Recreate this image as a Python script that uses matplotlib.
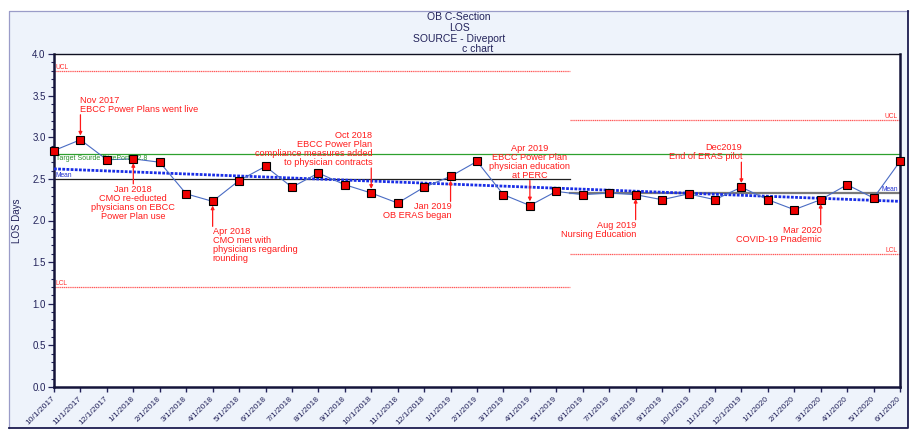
import matplotlib
matplotlib.use('Agg')
import matplotlib.pyplot as plt
from matplotlib.lines import Line2D
from matplotlib.patches import Rectangle
from matplotlib.ticker import MultipleLocator, FormatStrFormatter

# ---------------- data ----------------
months = ['10/1/2017', '11/1/2017', '12/1/2017', '1/1/2018', '2/1/2018', '3/1/2018',
          '4/1/2018', '5/1/2018', '6/1/2018', '7/1/2018', '8/1/2018', '9/1/2018',
          '10/1/2018', '11/1/2018', '12/1/2018', '1/1/2019', '2/1/2019', '3/1/2019',
          '4/1/2019', '5/1/2019', '6/1/2019', '7/1/2019', '8/1/2019', '9/1/2019',
          '10/1/2019', '11/1/2019', '12/1/2019', '1/1/2020', '2/1/2020', '3/1/2020',
          '4/1/2020', '5/1/2020', '6/1/2020']
los_days = [2.84, 2.97, 2.73, 2.74, 2.70, 2.32, 2.23, 2.48, 2.65, 2.40, 2.57, 2.43,
            2.33, 2.21, 2.40, 2.53, 2.71, 2.31, 2.18, 2.35, 2.31, 2.33, 2.31, 2.25,
            2.32, 2.25, 2.40, 2.25, 2.13, 2.25, 2.43, 2.27, 2.71]
phase_bounds = [0, 19.5, 32]          # phase change between 5/1/2019 and 6/1/2019
phase_mean = [2.50, 2.33]
phase_ucl = [3.80, 3.21]
phase_lcl = [1.20, 1.60]
target = 2.8
target_label = 'Target Sourde DivePort = 2.8'
trend_ends = [2.62, 2.23]

ann_index = [1, 3, 6, 12, 15, 18, 22, 26, 29]
ann_text = ['Nov 2017\nEBCC Power Plans went live',
            'Jan 2018\nCMO re-educted\nphysicians on EBCC\nPower Plan use',
            'Apr 2018\nCMO met with\nphysicians regarding\nrounding',
            'Oct 2018\nEBCC Power Plan\ncompliance measures added\nto physician contracts',
            'Jan 2019\nOB ERAS began',
            'Apr 2019\nEBCC Power Plan\nphysician education\nat PERC',
            'Aug 2019\nNursing Education',
            'Dec2019\nEnd of ERAS pilot',
            'Mar 2020\nCOVID-19 Pnademic']
ann_side = ['above', 'below', 'below', 'above', 'below', 'above', 'below', 'above', 'below']
ann_align = ['left', 'center', 'left', 'right', 'right', 'center', 'right', 'right', 'right']

# ---------------- styles ----------------
plt.rcParams['font.family'] = ['Liberation Sans', 'DejaVu Sans']
NAVY = '#22225a'
RED = '#ff1a1a'
W, H = 919, 441

fig = plt.figure(figsize=(W / 100, H / 100), dpi=100, facecolor='white')

def fx(px):
    return px / W

def fy(py):
    return 1 - py / H

# outer panel
fig.patches.append(Rectangle((fx(9), fy(428)), fx(908) - fx(9), fy(11) - fy(428),
                             transform=fig.transFigure, facecolor='#eef3fb',
                             edgecolor='none', zorder=-10))
fig.lines.append(Line2D([fx(9), fx(9), fx(908)], [fy(428), fy(11), fy(11)],
                        transform=fig.transFigure, color='#9a9cc8', lw=0.9, zorder=-9))
fig.lines.append(Line2D([fx(9), fx(908), fx(908)], [fy(428), fy(428), fy(11)],
                        transform=fig.transFigure, color='#1c1c50', lw=1.3, zorder=-9))

ax = fig.add_axes([fx(54), fy(387), fx(900) - fx(54), fy(54) - fy(387)])
ax.set_zorder(1)
ax.set_facecolor('white')

x = list(range(len(months)))

# control limits / mean by phase
for k in range(2):
    xs = [phase_bounds[k], phase_bounds[k + 1]]
    ax.plot(xs, [phase_ucl[k]] * 2, color='#ff5a5a', lw=0.9, ls=(0, (1, 0.5)), zorder=2)
    ax.plot(xs, [phase_lcl[k]] * 2, color='#ff5a5a', lw=0.9, ls=(0, (1, 0.5)), zorder=2)
ax.plot([phase_bounds[0], phase_bounds[1]], [phase_mean[0]] * 2, color='#202020', lw=0.9, zorder=2)
ax.plot([phase_bounds[1], phase_bounds[2]], [phase_mean[1]] * 2, color='#7a7a7a', lw=1.6, zorder=2)

# target
ax.axhline(target, color='#2ea02e', lw=0.9, zorder=2)

# trend
ax.plot([x[0], x[-1]], trend_ends, color='#1a2ee6', lw=2.0, ls=(0, (1, 0.5)), zorder=3)

# data
ax.plot(x, los_days, color='#4a6cc4', lw=0.8, zorder=4)
ax.plot(x, los_days, ls='none', marker='s', ms=6.1, mfc='#ee0000', mec='black', mew=0.8,
        zorder=5, clip_on=False)

# small line labels
small = dict(fontsize=4.8, zorder=6)
ax.annotate('UCL', xy=(0, phase_ucl[0]), xytext=(2, 0), textcoords='offset pixels',
            ha='left', va='bottom', color='#ff3030', **small)
ax.annotate('LCL', xy=(0, phase_lcl[0]), xytext=(2, 0), textcoords='offset pixels',
            ha='left', va='bottom', color='#ff3030', **small)
ax.annotate('Mean', xy=(0, phase_mean[0]), xytext=(2, 0), textcoords='offset pixels',
            ha='left', va='bottom', color='#2030d0', **small)
ax.annotate(target_label, xy=(0, target), xytext=(2, -1), textcoords='offset pixels',
            ha='left', va='top', color='#2a902a', fontsize=5, zorder=4.5)
ax.annotate('UCL', xy=(32, phase_ucl[1]), xytext=(-2, 0), textcoords='offset pixels',
            ha='right', va='bottom', color='#ff3030', **small)
ax.annotate('LCL', xy=(32, phase_lcl[1]), xytext=(-2, 0), textcoords='offset pixels',
            ha='right', va='bottom', color='#ff3030', **small)
ax.annotate('Mean', xy=(32, phase_mean[1]), xytext=(-2, 0), textcoords='offset pixels',
            ha='right', va='bottom', color='#2030d0', **small)

# event annotations
for i, txt, side, al in zip(ann_index, ann_text, ann_side, ann_align):
    v = los_days[i]
    sgn = 1 if side == 'above' else -1
    ax.annotate('', xy=(i, v), xytext=(0, sgn * 25), textcoords='offset pixels',
                arrowprops=dict(arrowstyle='-|>', color=RED, lw=0.9, mutation_scale=5,
                                shrinkA=0, shrinkB=3), zorder=6)
    dx = 1 if al == 'right' else 0
    ax.annotate(txt, xy=(i, v), xytext=(dx, sgn * 26), textcoords='offset pixels',
                ha=al, va='bottom' if side == 'above' else 'top', color=RED,
                fontsize=6.6, linespacing=1.0, zorder=6)

# axes formatting
ax.set_xlim(0, 32)
ax.set_ylim(0, 4.0)
ax.set_xticks(x)
ax.set_xticklabels(months, rotation=45, ha='right', va='center', rotation_mode='anchor',
                   fontsize=6, color=NAVY)
ax.yaxis.set_major_locator(MultipleLocator(0.5))
ax.yaxis.set_minor_locator(MultipleLocator(0.1))
ax.yaxis.set_major_formatter(FormatStrFormatter('%.1f'))
ax.tick_params(axis='y', which='major', length=4, width=0.9, color=NAVY, labelsize=7,
               labelcolor=NAVY, pad=2)
ax.tick_params(axis='y', which='minor', length=2.5, width=0.8, color=NAVY)
ax.tick_params(axis='x', length=3.5, width=1.0, color=NAVY, pad=4)
for s in ['left', 'bottom', 'right']:
    ax.spines[s].set_linewidth(1.8)
    ax.spines[s].set_color('#14143a')
ax.spines['top'].set_linewidth(1.0)
ax.spines['top'].set_color('#101020')

# titles
fig.text(fx(459), fy(17.5), 'OB C-Section', ha='center', va='center', fontsize=7.5, color=NAVY)
fig.text(fx(460), fy(28), 'LOS', ha='center', va='center', fontsize=7.5, color=NAVY)
fig.text(fx(459), fy(38.5), 'SOURCE - Diveport', ha='center', va='center', fontsize=7.5, color=NAVY)
fig.text(fx(478), fy(49), 'c chart', ha='center', va='center', fontsize=7.5, color=NAVY)
fig.text(fx(17), fy(221), 'LOS Days', ha='center', va='center', rotation=90, fontsize=7,
         color=NAVY)

fig.savefig('out.png', dpi=100, facecolor='white')
